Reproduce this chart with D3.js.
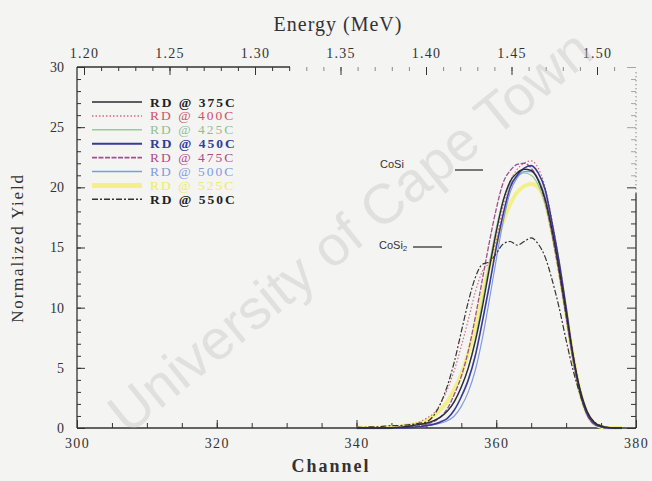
<!DOCTYPE html>
<html>
<head>
<meta charset="utf-8">
<script src="https://cdn.jsdelivr.net/npm/d3@7"></script>
<style>
  body { margin: 0; background: #f4f4f3; }
  svg { display: block; font-family: "Liberation Serif", "DejaVu Serif", serif; }
</style>
</head>
<body>
<script>
// channel numbers
var channels = [340,341,342,343,344,345,346,347,348,349,
                350,351,352,353,354,355,356,357,358,359,
                360,361,362,363,364,365,366,367,368,369,
                370,371,372,373,374,375,376,377,378];

var rd375 = [0,0,0,0,0,0,0.05,0.1,0.2,0.3,
             0.4,0.6,0.9,1.4,2.2,3.4,5.0,7.2,10.0,13.2,
             16.3,18.9,20.5,21.2,21.5,21.4,20.6,19.0,16.4,13.2,
             9.6,6.0,3.2,1.4,0.5,0.15,0.05,0,0];
var rd400 = [0,0,0,0,0,0.05,0.1,0.2,0.3,0.5,
             0.8,1.2,2.0,3.2,4.8,6.8,9.0,11.3,13.0,13.8,
             15.6,18.5,20.5,21.5,22.0,22.2,21.6,20.0,17.2,13.8,
             10.0,6.2,3.2,1.3,0.4,0.1,0,0,0];
var rd425 = [0,0,0,0,0,0,0.05,0.1,0.2,0.3,
             0.4,0.6,0.9,1.4,2.2,3.4,5.0,7.4,10.4,13.6,
             16.6,19.0,20.3,20.9,21.2,21.0,20.2,18.6,16.0,12.8,
             9.2,5.6,2.8,1.1,0.3,0.1,0,0,0];
var rd450 = [0,0,0,0,0,0,0,0,0.05,0.1,
             0.2,0.3,0.5,0.8,1.5,2.6,4.0,6.0,8.8,11.8,
             15.0,17.8,20.0,21.0,21.6,21.8,21.2,19.8,17.0,13.8,
             10.0,6.0,3.0,1.2,0.4,0.1,0,0,0];
var rd475 = [0,0,0,0,0,0,0,0.05,0.1,0.2,
             0.3,0.5,0.9,1.6,2.8,4.3,6.4,9.2,12.3,15.4,
             18.2,20.4,21.4,21.9,22.0,21.6,20.6,18.8,16.0,12.8,
             9.2,5.6,2.8,1.1,0.3,0.1,0,0,0];
var rd500 = [0,0,0,0,0,0,0,0,0.05,0.1,
             0.2,0.3,0.4,0.6,1.0,1.8,3.0,4.8,7.4,10.6,
             14.0,17.2,19.6,20.8,21.3,21.3,20.7,19.2,16.6,13.4,
             9.6,5.8,2.9,1.1,0.3,0.1,0,0,0];
var rd525 = [0,0,0,0,0,0.05,0.1,0.2,0.3,0.4,
             0.6,1.0,1.5,2.2,3.2,4.5,6.2,8.4,11.0,13.4,
             15.4,17.2,18.6,19.6,20.1,20.3,20.0,18.8,16.3,13.2,
             9.6,5.9,3.0,1.2,0.4,0.1,0,0,0];
var rd550 = [0.1,0.05,0.1,0.1,0.15,0.2,0.2,0.25,0.3,0.4,
             0.5,1.0,2.0,3.5,5.5,8.0,10.5,12.5,13.6,13.8,
             14.5,15.3,15.5,15.2,15.5,15.8,15.3,14.2,12.3,10.0,
             7.3,4.8,2.8,1.3,0.5,0.2,0.05,0,0];

var seriesNames = ["RD @ 375C","RD @ 400C","RD @ 425C","RD @ 450C",
                   "RD @ 475C","RD @ 500C","RD @ 525C","RD @ 550C"];
var seriesValues = [rd375, rd400, rd425, rd450, rd475, rd500, rd525, rd550];

var channelTicks = [300, 320, 340, 360, 380];
var yieldTicks = [0, 5, 10, 15, 20, 25, 30];
var energyTicks = [1.20, 1.25, 1.30, 1.35, 1.40, 1.45, 1.50];

var styles = [
  {stroke: "#2a2a33", width: 1.4, dash: null,      text: "#222", weight: "bold"},
  {stroke: "#d86a80", width: 1.2, dash: "1.5,2",   text: "#d0506a", weight: "normal"},
  {stroke: "#9cc99a", width: 1.2, dash: null,      text: "#90c090", weight: "normal"},
  {stroke: "#3a3a96", width: 1.6, dash: null,      text: "#2f3f9a", weight: "bold"},
  {stroke: "#a0508a", width: 1.3, dash: "5,1.5",   text: "#b04a8c", weight: "normal"},
  {stroke: "#7f9be0", width: 1.2, dash: null,      text: "#7f9be0", weight: "normal"},
  {stroke: "#f3f08a", width: 4.0, dash: null,      text: "#efea6a", weight: "normal"},
  {stroke: "#333333", width: 1.2, dash: "6,2,2,2", text: "#222", weight: "bold"}
];

var W = 652, H = 481;
var svg = d3.select("body").append("svg")
  .attr("width", W).attr("height", H);

var x = d3.scaleLinear().domain([300, 380]).range([77, 636]);
var y = d3.scaleLinear().domain([0, 30]).range([428, 67]);
var energy = d3.scaleLinear().domain([1.20, 1.50]).range([84, 597]);

var line = d3.line()
  .x(function(d) { return x(d[0]); })
  .y(function(d) { return y(d[1]); })
  .curve(d3.curveMonotoneX);

// bottom axis (ticks inside)
var bottomAxis = svg.append("g")
  .attr("transform", "translate(0," + y(0) + ")")
  .call(d3.axisBottom(x).tickValues(channelTicks).tickSize(-8).tickPadding(10)
    .tickFormat(d3.format("d")));
bottomAxis.select(".domain").remove();
bottomAxis.selectAll("text").style("font-family", "Liberation Serif")
  .attr("font-size", 14).attr("letter-spacing", 1.4).attr("fill", "#333");

var bottomMinor = svg.append("g")
  .attr("transform", "translate(0," + y(0) + ")")
  .call(d3.axisBottom(x).tickValues(d3.range(305, 380, 5)).tickSize(-5).tickFormat(""));
bottomMinor.select(".domain").remove();

// left axis
var leftAxis = svg.append("g")
  .attr("transform", "translate(" + x(300) + ",0)")
  .call(d3.axisLeft(y).tickValues(yieldTicks).tickSize(-8).tickPadding(13));
leftAxis.select(".domain").remove();
leftAxis.selectAll("text").style("font-family", "Liberation Serif")
  .attr("font-size", 14).attr("fill", "#333");

var leftMinor = svg.append("g")
  .attr("transform", "translate(" + x(300) + ",0)")
  .call(d3.axisLeft(y).tickValues(d3.range(1, 30, 1)).tickSize(-4).tickFormat(""));
leftMinor.select(".domain").remove();

// right axis
var rightAxis = svg.append("g")
  .attr("transform", "translate(" + x(380) + ",0)")
  .call(d3.axisRight(y).tickValues(d3.range(0, 31, 1)).tickSize(-5).tickFormat(""));
rightAxis.select(".domain").remove();
rightAxis.selectAll(".tick").filter(function(d) { return d % 5 === 0; })
  .select("line").attr("x2", -9);
rightAxis.selectAll(".tick").filter(function(d) { return d > 20; })
  .attr("opacity", 0.4);

// top energy axis
var topAxis = svg.append("g")
  .attr("transform", "translate(0," + y(30) + ")")
  .call(d3.axisTop(energy).tickValues(energyTicks).tickSize(-8).tickPadding(9)
    .tickFormat(d3.format(".2f")));
topAxis.select(".domain").remove();
topAxis.selectAll("text").style("font-family", "Liberation Serif")
  .attr("font-size", 14).attr("letter-spacing", 1.2).attr("fill", "#333");

var topMinor = svg.append("g")
  .attr("transform", "translate(0," + y(30) + ")")
  .call(d3.axisTop(energy).tickValues(d3.range(1.21, 1.515, 0.01)).tickSize(-4).tickFormat(""));
topMinor.select(".domain").remove();
topMinor.selectAll(".tick").filter(function(d) { return energy(d) > 290; })
  .attr("opacity", 0.55);

svg.selectAll(".tick line").attr("stroke", "#333");

// frame (scan has the top line and upper right line fading out)
var frame = svg.append("g").attr("stroke", "#333").attr("stroke-width", 1.3);
frame.append("line").attr("x1", x(300)).attr("x2", x(380)).attr("y1", y(0)).attr("y2", y(0));
frame.append("line").attr("x1", x(300)).attr("x2", x(300)).attr("y1", y(0)).attr("y2", y(30));
frame.append("line").attr("x1", x(300)).attr("x2", 290).attr("y1", y(30)).attr("y2", y(30));
frame.append("line").attr("x1", x(380)).attr("x2", x(380)).attr("y1", y(0)).attr("y2", y(19.5));
frame.append("line").attr("x1", x(380)).attr("x2", x(380)).attr("y1", y(19.5)).attr("y2", y(29.6))
  .attr("stroke-dasharray", "1,3").attr("opacity", 0.6);

// curves: yellow one first so the others sit over it
var order = [6, 2, 5, 1, 4, 3, 0, 7];
order.forEach(function(i) {
  var pts = channels.map(function(c, k) { return [c, seriesValues[i][k]]; });
  svg.append("path")
    .datum(pts)
    .attr("fill", "none")
    .attr("stroke", styles[i].stroke)
    .attr("stroke-width", styles[i].width)
    .attr("stroke-dasharray", styles[i].dash)
    .attr("d", line);
});

// legend
var legend = svg.append("g");
seriesNames.forEach(function(name, i) {
  var ly = 102 + i * 13.9;
  legend.append("line")
    .attr("x1", 92).attr("x2", 142).attr("y1", ly).attr("y2", ly)
    .attr("stroke", styles[i].stroke)
    .attr("stroke-width", i === 6 ? 5 : styles[i].width + 0.3)
    .attr("stroke-dasharray", styles[i].dash);
  legend.append("text")
    .attr("x", 150).attr("y", ly + 4.5)
    .attr("font-size", 13.5).attr("letter-spacing", 2)
    .attr("font-weight", styles[i].weight)
    .attr("fill", styles[i].text)
    .text(name);
});

// phase markers
svg.append("text").attr("x", 380).attr("y", 168).attr("font-size", 11)
  .style("font-family", "Liberation Sans").attr("fill", "#333").text("CoSi");
svg.append("line").attr("x1", 455).attr("x2", 483).attr("y1", 170).attr("y2", 170)
  .attr("stroke", "#333").attr("stroke-width", 1.3);
var cosi2 = svg.append("text").attr("x", 379).attr("y", 249).attr("font-size", 11)
  .style("font-family", "Liberation Sans").attr("fill", "#333");
cosi2.append("tspan").text("CoSi");
cosi2.append("tspan").attr("font-size", 8).attr("dy", 2).text("2");
svg.append("line").attr("x1", 413).attr("x2", 442).attr("y1", 247).attr("y2", 247)
  .attr("stroke", "#333").attr("stroke-width", 1.3);

// axis titles
svg.append("text").attr("x", 338).attr("y", 31).attr("text-anchor", "middle")
  .attr("font-size", 20).attr("letter-spacing", 1).attr("fill", "#333")
  .text("Energy (MeV)");
svg.append("text").attr("x", 331).attr("y", 472).attr("text-anchor", "middle")
  .attr("font-size", 18).attr("font-weight", "bold").attr("letter-spacing", 2)
  .attr("fill", "#333").text("Channel");
svg.append("text")
  .attr("transform", "translate(23,248) rotate(-90)")
  .attr("text-anchor", "middle")
  .attr("font-size", 17).attr("letter-spacing", 1.8).attr("fill", "#333")
  .text("Normalized Yield");

// scanned watermark
svg.append("text")
  .attr("transform", "translate(362,246) rotate(-39)")
  .attr("text-anchor", "middle")
  .style("font-family", "Liberation Sans")
  .attr("font-size", 56)
  .attr("fill", "#c4c4c4")
  .attr("opacity", 0.4)
  .text("University of Cape Town");
</script>
</body>
</html>
